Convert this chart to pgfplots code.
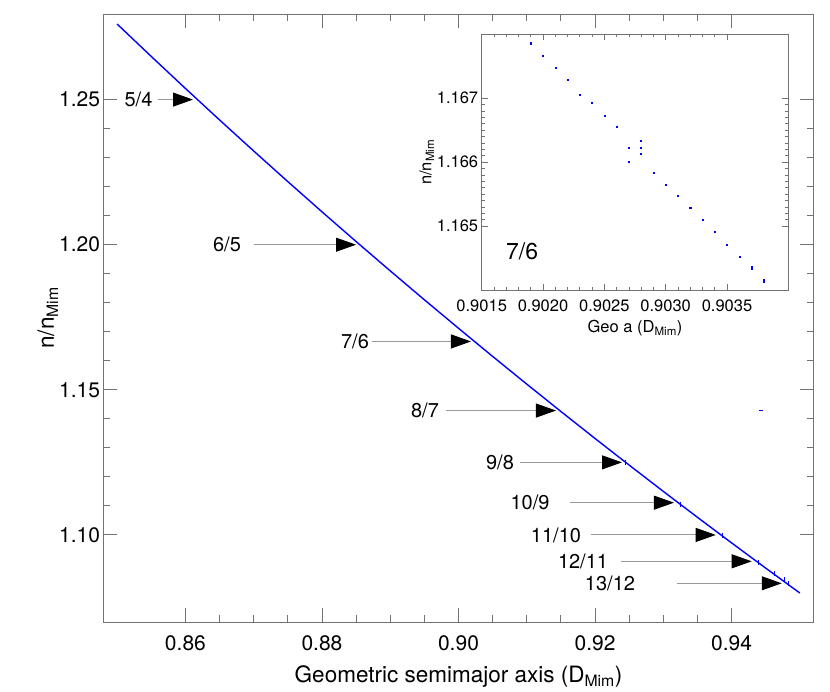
\documentclass[border=0pt]{standalone}
\usepackage{pgfplots}
\pgfplotsset{compat=1.18}
\usepackage{fontspec}
\setmainfont{TeX Gyre Heros}
\usetikzlibrary{arrows.meta}
\definecolor{axgray}{gray}{0.45}
\definecolor{argray}{gray}{0.6}
\newcommand{\mainfont}{\fontsize{21}{24}\selectfont}
\newcommand{\labfont}{\fontsize{22.5}{26}\selectfont}
\newcommand{\annfont}{\fontsize{20}{22}\selectfont}
\newcommand{\insfont}{\fontsize{16.5}{19}\selectfont}
\begin{document}
\begin{tikzpicture}[x=1pt,y=1pt]
\path[use as bounding box] (0,0) rectangle (830,692);
\begin{axis}[
  at={(103.5pt,70pt)}, anchor=south west,
  scale only axis, width=710pt, height=608pt,
  xmin=0.848, xmax=0.952, ymin=1.07, ymax=1.2795,
  xtick={0.86,0.88,0.90,0.92,0.94},
  ytick={1.10,1.15,1.20,1.25},
  minor x tick num=3, minor y tick num=4,
  major tick length=14pt, minor tick length=7pt,
  tick align=inside,
  axis line style={axgray, line width=0.9pt},
  every tick/.style={axgray, line width=0.9pt},
  tick label style={font=\mainfont},
  label style={font=\labfont},
  /pgf/number format/.cd, fixed, fixed zerofill, precision=2, assume math mode=true,
  /pgfplots/.cd,
  xticklabel style={yshift=-10pt},
  xlabel={Geometric semimajor axis (D\textsubscript{Mim})},
  ylabel={n/n\textsubscript{Mim}},
  xlabel style={yshift=-8pt},
  ylabel style={yshift=-6pt},
  clip=false,
]
\addplot[blue, line width=1.4pt] coordinates {
(0.850,1.27603) (0.855,1.26486) (0.860,1.25384) (0.865,1.24299)
(0.870,1.23229) (0.875,1.22174) (0.880,1.21134) (0.885,1.20109)
(0.890,1.19099) (0.895,1.18102) (0.900,1.17121) (0.905,1.16151)
(0.910,1.15196) (0.915,1.14253) (0.920,1.13323) (0.925,1.12406)
(0.930,1.11500) (0.935,1.10607) (0.940,1.09726) (0.945,1.08856)
(0.950,1.07998)};
\addplot[blue, only marks, mark=|, mark size=2.5pt, mark options={line width=0.8pt}] coordinates {
(0.9245,1.1250) (0.93255,1.11057) (0.9387,1.0999) (0.9439,1.0906) (0.9462,1.0866) (0.9478,1.0845) (0.9483,1.0831)};
\addplot[blue, only marks, mark=-, mark size=1.8pt, mark options={line width=1pt}] coordinates {(0.9443,1.1430)};
% annotations
\tikzset{resarr/.style={argray, line width=0.9pt, -{Triangle[length=20pt,width=14pt,color=black,fill=black]}}}
\draw[resarr] (axis cs:0.85598,1.25) -- (axis cs:0.86111,1.25);
\node[font=\annfont] at (axis cs:0.85313,1.25) {5/4};
\draw[resarr] (axis cs:0.87004,1.20) -- (axis cs:0.88499,1.20);
\node[font=\annfont] at (axis cs:0.86609,1.20) {6/5};
\draw[resarr] (axis cs:0.88733,1.166667) -- (axis cs:0.90183,1.166667);
\node[font=\annfont] at (axis cs:0.88484,1.166667) {7/6};
\draw[resarr] (axis cs:0.89817,1.142857) -- (axis cs:0.91428,1.142857);
\node[font=\annfont] at (axis cs:0.89509,1.142857) {8/7};
\draw[resarr] (axis cs:0.90901,1.125) -- (axis cs:0.92395,1.125);
\node[font=\annfont] at (axis cs:0.90608,1.125) {9/8};
\draw[resarr] (axis cs:0.91633,1.111111) -- (axis cs:0.93156,1.111111);
\node[font=\annfont] at (axis cs:0.91047,1.111111) {10/9};
\draw[resarr] (axis cs:0.91936,1.10) -- (axis cs:0.93768,1.10);
\node[font=\annfont] at (axis cs:0.91428,1.10) {11/10};
\draw[resarr] (axis cs:0.92385,1.090909) -- (axis cs:0.94295,1.090909);
\node[font=\annfont] at (axis cs:0.91824,1.090909) {12/11};
\draw[resarr] (axis cs:0.93201,1.083333) -- (axis cs:0.94735,1.083333);
\node[font=\annfont] at (axis cs:0.92219,1.083333) {13/12};
\end{axis}
\begin{axis}[
  at={(481.7pt,402pt)}, anchor=south west,
  scale only axis, width=306.6pt, height=255.7pt,
  xmin=0.9015, xmax=0.9040, ymin=1.164, ymax=1.168,
  xtick={0.9015,0.9020,0.9025,0.9030,0.9035},
  ytick={1.165,1.166,1.167},
  minor x tick num=4, minor y tick num=9,
  major tick length=6pt, minor tick length=3pt,
  tick align=inside,
  axis line style={axgray, line width=0.8pt},
  every tick/.style={axgray, line width=0.7pt},
  axis background/.style={fill=white},
  tick label style={font=\insfont},
  label style={font=\insfont},
  xticklabel style={yshift=-6pt, /pgf/number format/.cd, fixed, fixed zerofill, precision=4, assume math mode=true},
  yticklabel style={/pgf/number format/.cd, fixed, fixed zerofill, precision=3, assume math mode=true},
  xlabel={Geo a (D\textsubscript{Mim})},
  ylabel={n/n\textsubscript{Mim}},
  xlabel style={yshift=-2pt},
  ylabel style={yshift=-4pt},
]
\addplot[blue, only marks, mark=square*, mark size=0.55pt] coordinates {
(0.9019,1.16786) (0.9020,1.16767) (0.9021,1.16748) (0.9022,1.16729)
(0.9023,1.16706) (0.9024,1.16693) (0.9025,1.16672) (0.9026,1.16656)
(0.9027,1.16622) (0.9027,1.16601)
(0.9028,1.16633) (0.9028,1.16622) (0.9028,1.16613)
(0.9029,1.16584) (0.9030,1.16565) (0.9031,1.16548) (0.9032,1.16529)
(0.9033,1.16510) (0.9034,1.16491) (0.9035,1.16471) (0.9036,1.16452)
(0.9037,1.16437) (0.9037,1.16433) (0.9038,1.16416) (0.9038,1.16413)};
\node[font=\fontsize{23}{26}\selectfont] at (axis cs:0.90183,1.1646) {7/6};
\end{axis}
\end{tikzpicture}
\end{document}
